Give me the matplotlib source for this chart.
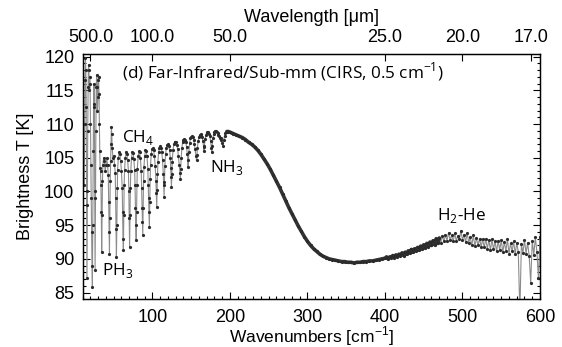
import numpy as np
import matplotlib
matplotlib.use("Agg")
import matplotlib.pyplot as plt
from matplotlib.ticker import MultipleLocator, FixedLocator, NullLocator

# --- spectrum ---------------------------------------------------------------
# low wavenumbers: strong rotational lines (irregular sampling)
wn_low = [
    12.0, 12.5, 13.0, 13.5, 14.0, 14.5, 15.0, 15.5, 16.0, 16.5, 17.0, 17.5,
    18.0, 18.5, 19.0, 19.5, 20.0, 20.5, 21.0, 21.5, 22.0, 22.5, 23.0, 23.5,
    24.0, 24.5, 25.0, 25.5, 26.0, 26.5, 27.0, 27.5, 28.0, 28.5, 29.0, 29.5,
    30.0, 30.5, 31.0, 31.5, 32.0, 32.5, 33.0, 33.5, 34.0, 34.5, 35.0, 35.5,
    36.0, 37.0, 38.0, 39.0, 40.0, 41.0, 42.0, 43.0, 43.5, 44.0, 44.5, 45.0,
    45.5, 46.0, 46.5, 47.0, 47.5, 48.0, 49.0, 50.0, 51.0, 52.0, 52.5, 53.0,
    53.5, 54.0, 54.5, 55.0, 56.0, 57.0, 58.0, 59.0, 60.0, 61.0, 61.5, 62.0,
    62.5, 63.0, 63.5, 64.0, 65.0, 66.0, 67.0, 68.0, 69.0, 69.5, 70.0, 70.5,
    71.0, 71.5, 72.0, 73.0, 74.0, 75.0, 76.0, 77.0, 77.5, 78.0, 78.5, 79.0,
    79.5, 80.0, 80.5, 81.5, 82.5, 83.5, 84.5, 85.5, 86.0, 86.5, 87.0, 87.5,
    88.0, 88.5, 89.0, 90.0, 91.0, 92.0, 93.0, 94.0, 94.5, 95.0, 95.5, 96.0,
    96.5, 97.0, 97.5, 98.5, 99.5, 100.5, 101.5, 102.5, 103.5, 104.5, 105.0, 105.5,
    106.0, 106.5, 107.0, 108.0, 109.0, 110.0, 111.0, 112.0, 113.0, 114.0, 114.5, 115.0,
    115.5, 116.0, 117.0, 118.0, 119.0, 120.0, 121.0, 122.0, 123.0, 123.5, 124.0, 124.5,
    125.0, 125.5, 126.5, 127.5, 128.5, 129.5, 130.5, 131.5, 132.5, 133.5, 134.5, 135.5,
    136.0, 136.5, 137.0, 138.0, 139.0, 140.0, 141.0, 142.0, 143.0, 144.0, 145.0, 146.0,
    146.5, 147.0, 148.0, 149.0, 150.0, 151.0, 152.0, 153.0, 154.0, 155.0, 156.0, 157.0,
    157.5, 158.0, 159.0, 160.0, 161.0, 162.0, 163.0, 164.0, 165.0, 166.0, 166.5, 167.0,
    168.0, 169.0, 170.0, 171.0, 172.0, 173.0, 174.0, 175.0, 176.0, 176.5, 177.0, 178.0,
    179.0, 180.0, 181.0, 182.0, 183.0, 184.0, 185.0, 186.0, 187.0, 188.0, 189.0, 190.0,
    191.0, 192.0, 193.0, 194.0, 196.0, 198.0, 200.0, 202.0,
]
tb_low = [
    101.0, 110.0, 116.5, 119.8, 118.0, 112.5, 100.0, 87.1, 98.0, 109.0, 115.5, 118.8,
    118.0, 115.0, 117.0, 116.0, 110.0, 104.0, 99.0, 94.0, 89.0, 85.9, 95.0, 106.0,
    112.5, 116.0, 113.0, 100.0, 88.3, 99.0, 109.0, 115.5, 117.3, 115.5, 112.0, 114.0,
    116.5, 117.0, 114.5, 110.0, 106.0, 103.5, 103.0, 101.0, 97.0, 91.0, 96.5, 101.5,
    104.0, 105.0, 104.5, 103.0, 104.0, 105.0, 104.0, 102.5, 98.5, 94.0, 90.7, 96.0,
    101.5, 104.5, 107.0, 109.6, 108.5, 106.5, 105.0, 105.3, 104.0, 102.8, 99.0, 94.5,
    90.3, 95.0, 100.5, 103.2, 105.0, 105.8, 105.5, 104.5, 103.0, 100.5, 97.0, 93.0,
    91.3, 96.5, 101.0, 103.2, 105.0, 105.9, 105.6, 104.6, 103.0, 100.0, 96.0, 91.8,
    96.5, 100.5, 103.0, 105.0, 105.9, 105.7, 104.8, 103.2, 101.0, 97.5, 95.0, 92.8,
    97.0, 101.0, 103.4, 105.2, 106.0, 105.8, 104.9, 103.0, 100.5, 97.5, 95.5, 93.5,
    97.5, 101.5, 103.6, 105.3, 106.1, 106.0, 105.2, 103.4, 101.0, 99.0, 97.0, 94.7,
    98.5, 101.8, 103.9, 105.6, 106.3, 106.4, 106.1, 105.3, 103.8, 101.5, 99.8, 97.7,
    100.2, 102.6, 104.4, 105.9, 106.5, 106.7, 106.5, 105.9, 104.6, 102.6, 101.0, 99.2,
    101.4, 103.8, 105.6, 106.5, 106.9, 107.0, 106.8, 106.2, 105.0, 103.5, 102.2, 100.7,
    102.6, 104.4, 106.1, 107.0, 107.3, 107.4, 107.3, 106.9, 106.3, 105.2, 104.0, 102.8,
    101.9, 103.4, 104.9, 106.5, 107.4, 107.7, 107.8, 107.7, 107.3, 106.6, 105.5, 103.6,
    104.6, 105.9, 107.2, 107.9, 108.1, 108.2, 108.1, 107.7, 107.1, 106.3, 105.3, 104.6,
    105.4, 106.5, 107.5, 108.1, 108.4, 108.5, 108.4, 108.1, 107.5, 106.6, 106.0, 106.8,
    107.8, 108.4, 108.7, 108.8, 108.8, 108.6, 108.2, 107.5, 106.5, 105.8, 106.7, 107.9,
    108.5, 108.8, 109.0, 109.0, 108.9, 108.7, 108.4, 108.2, 108.0, 107.9, 107.6, 107.2,
    106.8, 107.6, 108.3, 108.7, 108.9, 108.9, 108.8, 108.7,
]

# smooth continuum, every 4 cm-1
wn_mid = np.arange(204, 400, 4)
tb_mid = [
    108.6, 108.4, 108.2, 108.0, 107.7, 107.3, 107.0, 106.6, 106.1, 105.5,
    104.8, 104.1, 103.3, 102.4, 101.5, 100.6, 99.6, 98.6, 97.6, 96.7,
    95.8, 94.9, 94.1, 93.3, 92.6, 92.0, 91.5, 91.1, 90.7, 90.4,
    90.2, 90.0, 89.9, 89.8, 89.7, 89.6, 89.6, 89.5, 89.5, 89.4,
    89.5, 89.5, 89.6, 89.6, 89.7, 89.7, 89.8, 89.9, 90.0,
]

# noisy H2-He part, every 2 cm-1
wn_high = np.arange(400, 601, 2)
tb_high = [
    90.1, 90.3, 90.0, 90.3, 90.2, 90.5, 90.2, 90.6, 90.3, 90.7,
    90.5, 90.9, 90.5, 91.0, 90.7, 91.2, 90.9, 91.4, 91.0, 91.5,
    91.2, 91.7, 91.3, 91.9, 91.5, 92.1, 91.6, 92.3, 91.8, 92.5,
    92.0, 92.7, 92.1, 93.0, 92.3, 93.1, 92.4, 93.4, 92.6, 93.6,
    92.7, 93.9, 92.8, 93.5, 92.6, 93.8, 92.7, 93.4, 92.9, 94.2,
    92.8, 93.6, 92.5, 93.9, 92.4, 93.2, 92.0, 93.5, 91.9, 93.1,
    92.0, 93.0, 91.8, 92.9, 91.7, 93.0, 91.5, 92.8, 91.3, 92.9,
    91.4, 92.6, 91.1, 92.7, 91.3, 92.8, 91.0, 92.5, 91.2, 92.9,
    90.8, 92.3, 91.1, 92.6, 90.7, 92.4, 91.0, 82.0, 92.2, 90.9,
    92.8, 90.8, 92.4, 90.5, 86.4, 92.7, 90.6, 93.2, 91.0, 87.2,
    93.3,
]

wl_ticks = [500.0, 100.0, 50.0, 25.0, 20.0, 17.0]   # micron

wn = np.concatenate([wn_low, wn_mid, wn_high])
tb = np.concatenate([tb_low, tb_mid, tb_high])

plt.rcParams["font.family"] = ["Liberation Sans", "DejaVu Sans"]
plt.rcParams["axes.linewidth"] = 0.9

W, H = 562, 347
fig = plt.figure(figsize=(W / 100, H / 100), dpi=100)
ax = fig.add_axes([82.7 / W, (H - 299) / H, (540 - 82.7) / W, (299 - 54) / H])

ax.plot(wn, tb, color="#8c8c8c", lw=0.8, zorder=2)
# the densely sampled smooth part reads as one thick dark trace
smooth = (wn >= 196) & (wn <= 470)
ax.plot(wn[smooth], tb[smooth], color="#333333", lw=2.6,
        solid_capstyle="round", zorder=3)
ax.plot(wn, tb, ls="none", marker="o", ms=2.3, mfc="#2b2b2b", mec="none", zorder=4)

ax.set_xlim(10, 600)
ax.set_ylim(84.05, 120.4)

# top axis in wavelength
ax2 = ax.twiny()
ax2.set_xlim(ax.get_xlim())
ax2.xaxis.set_major_locator(FixedLocator([1e4 / w for w in wl_ticks]))
ax2.set_xticklabels([f"{w:.1f}" for w in wl_ticks])
ax2.xaxis.set_minor_locator(NullLocator())
ax2.tick_params(axis="x", direction="in", length=5, width=0.8, pad=6, labelsize=13)

ax.xaxis.set_major_locator(MultipleLocator(100))
ax.xaxis.set_minor_locator(MultipleLocator(10))
ax.yaxis.set_major_locator(MultipleLocator(5))
ax.yaxis.set_minor_locator(MultipleLocator(1))
ax.tick_params(which="both", direction="in", top=False, right=True, width=0.8)
ax.tick_params(which="major", length=5, labelsize=13)
ax.tick_params(which="minor", length=2.5)
ax.tick_params(axis="x", pad=7)
ax.tick_params(axis="y", pad=6)

cx = (82.7 + 540) / 2 / W
fig.text(cx, 1 - 18 / H, "Wavelength [\u03bcm]", ha="center", va="center", fontsize=13)
fig.text(cx, 1 - 336 / H, "Wavenumbers [cm$^{\\mathregular{-1}}$]",
         ha="center", va="center", fontsize=12.5)
fig.text(25 / W, 1 - 176.5 / H, "Brightness T [K]", rotation=90,
         ha="center", va="center", fontsize=13)

lab = dict(family=["Open Sans", "DejaVu Sans"], fontsize=12.3, va="baseline", ha="left")
ax.text(60.3, 116.8, "(d) Far-Infrared/Sub-mm (CIRS, 0.5 cm$^{\\mathregular{-1}}$)", **lab)
ax.text(60.3, 107.4, "CH$_{\\mathregular{4}}$", **lab)
ax.text(174.5, 102.9, "NH$_{\\mathregular{3}}$", **lab)
ax.text(34.5, 87.6, "PH$_{\\mathregular{3}}$", **lab)
ax.text(466.8, 95.8, "H$_{\\mathregular{2}}$-He", **lab)

fig.savefig("out.png", dpi=100)
